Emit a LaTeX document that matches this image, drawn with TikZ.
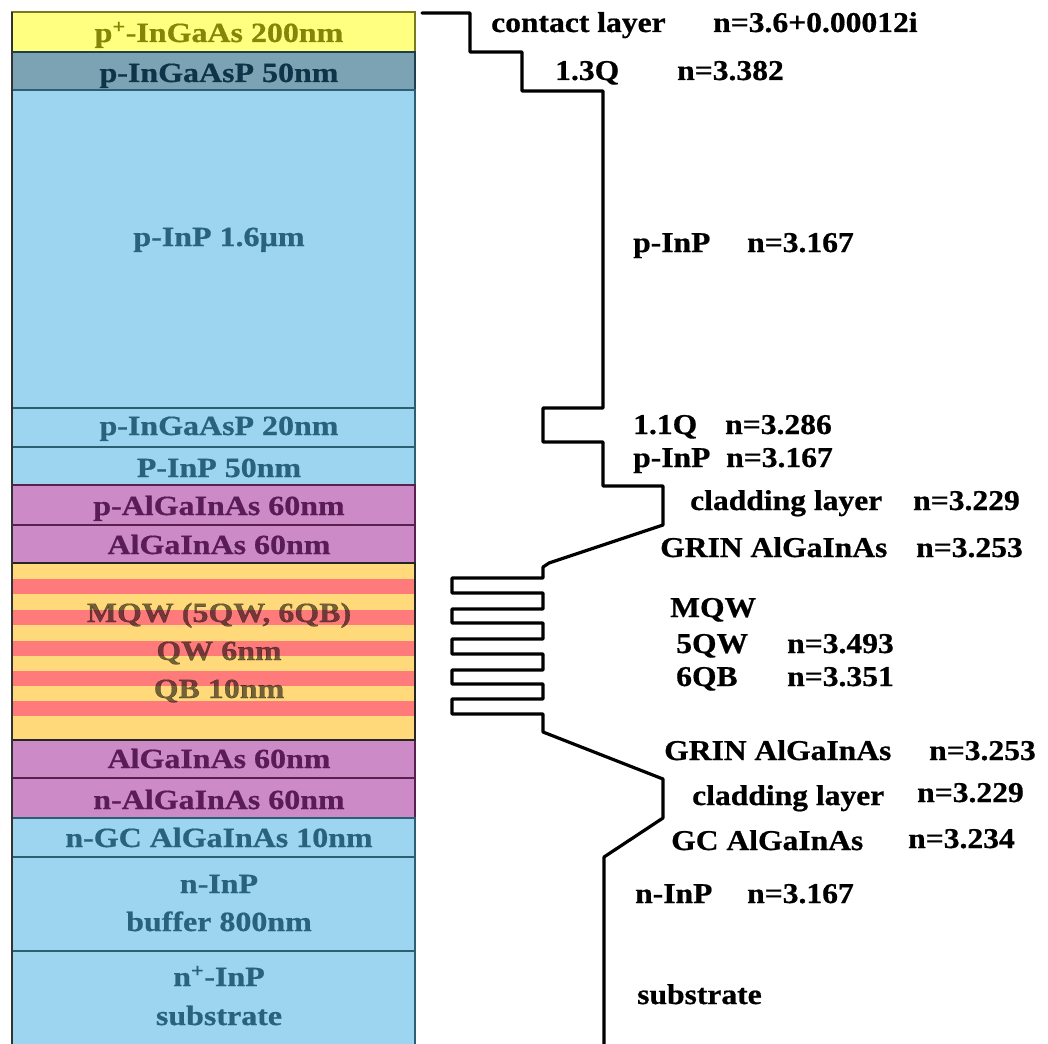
\documentclass[tikz,border=0pt]{standalone}
\usepackage{fontspec}
\setmainfont{Liberation Serif}[BoldFeatures={FakeBold=0.6}]
\usepackage{graphicx}
\definecolor{cyel}{HTML}{FFFF80}
\definecolor{dyel}{HTML}{7A7A20}
\definecolor{tyel}{HTML}{85850A}
\definecolor{cgt}{HTML}{7BA3B3}
\definecolor{dgt}{HTML}{1E3E4E}
\definecolor{tgt}{HTML}{0D3448}
\definecolor{cblu}{HTML}{9DD5F0}
\definecolor{dblu}{HTML}{2C5F73}
\definecolor{tblu}{HTML}{28627D}
\definecolor{cmag}{HTML}{CC8AC6}
\definecolor{dmag}{HTML}{5A2050}
\definecolor{tmag}{HTML}{5A1C54}
\definecolor{cqy}{HTML}{FFD97A}
\definecolor{cqr}{HTML}{FF7B7B}
\newcommand{\lsc}[1]{\scalebox{1.15}[1]{#1}}
\newcommand{\rsc}[1]{\scalebox{1.1}[1]{#1}}
\begin{document}
\begin{tikzpicture}[x=1pt,y=-1pt,
  layerbox/.style={line width=1.3pt},
  leftlab/.style={anchor=base,inner sep=0pt,font=\fontsize{27.8}{32}\selectfont\bfseries},
  rightlab/.style={anchor=base west,inner sep=0pt,font=\fontsize{28.7}{33}\selectfont\bfseries},
  profile/.style={line width=3.2pt,line join=round,line cap=round}]
\useasboundingbox (0,0) rectangle (1048,1043);
\fill[white] (0,0) rectangle (1048,1043);
% layers
\foreach \a/\b/\f/\d in {12/52/cyel/dyel,52/90/cgt/dgt,90/408/cblu/dblu,408/447/cblu/dblu,447/485/cblu/dblu,485/525/cmag/dmag,525/563/cmag/dmag,740/778/cmag/dmag,778/818/cmag/dmag,818/857/cblu/dblu,857/951/cblu/dblu,951/1046/cblu/dblu}
  \draw[layerbox,fill=\f,draw=\d] (12,\a) rectangle (415,\b);
% MQW stripes
\fill[cqy] (12,563) rectangle (415,740);
\foreach \t in {579,610,641,671,701}
  \fill[cqr] (12,\t) rectangle (415,\t+15);
\draw[layerbox,draw=black!85] (12,563) rectangle (415,740);
\draw[line width=1.5pt,black!80] (12,12) -- (12,1046);
% left labels
\node[leftlab,text=tyel] (l1) at (219,42) {\lsc{p\textsuperscript{+}-InGaAs 200nm}};
\node[leftlab,text=tgt] (l2) at (219,82) {\lsc{p-InGaAsP 50nm}};
\node[leftlab,text=tblu] (l3) at (219,246) {\lsc{p-InP 1.6µm}};
\node[leftlab,text=tblu] (l4) at (219,435) {\lsc{p-InGaAsP 20nm}};
\node[leftlab,text=tblu] (l5) at (219,477) {\lsc{P-InP 50nm}};
\node[leftlab,text=tmag] (l6) at (219,515) {\lsc{p-AlGaInAs 60nm}};
\node[leftlab,text=tmag] (l7) at (219,554) {\lsc{AlGaInAs 60nm}};
\node[leftlab,text=black,text opacity=0.55] (l8) at (219,622) {\lsc{MQW (5QW, 6QB)}};
\node[leftlab,text=black,text opacity=0.55] (l9) at (219,660) {\lsc{QW 6nm}};
\node[leftlab,text=black,text opacity=0.55] (l10) at (219,698) {\lsc{QB 10nm}};
\node[leftlab,text=tmag] (l11) at (219,768) {\lsc{AlGaInAs 60nm}};
\node[leftlab,text=tmag] (l12) at (219,809) {\lsc{n-AlGaInAs 60nm}};
\node[leftlab,text=tblu] (l13) at (219,847) {\lsc{n-GC AlGaInAs 10nm}};
\node[leftlab,text=tblu] (l14) at (219,893) {\lsc{n-InP}};
\node[leftlab,text=tblu] (l15) at (219,931) {\lsc{buffer 800nm}};
\node[leftlab,text=tblu] (l16) at (219,986) {\lsc{n\textsuperscript{+}-InP}};
\node[leftlab,text=tblu] (l17) at (219,1025) {\lsc{substrate}};
% index profile
\draw[profile] (422,13) -- (470,13) -- (470,52) -- (522,52) -- (522,91) -- (603,91)
  -- (603,408) -- (543,408) -- (543,442) -- (603,442) -- (603,486) -- (663,486)
  -- (663,525) -- (549,563) -- (543,567) -- (543,578)
  -- (452,578) -- (452,593) -- (543,593) -- (543,609)
  -- (452,609) -- (452,623) -- (543,623) -- (543,639)
  -- (452,639) -- (452,654) -- (543,654) -- (543,670)
  -- (452,670) -- (452,684) -- (543,684) -- (543,699)
  -- (452,699) -- (452,714) -- (543,714) -- (543,732)
  -- (663,779) -- (663,818) -- (604,857) -- (604,1046);
% right labels
\node[rightlab] (r1) at (491,32) {\rsc{contact layer}};
\node[rightlab] (r1n) at (713,32) {\rsc{n=3.6+0.00012i}};
\node[rightlab] (r2) at (555,80) {\rsc{1.3Q}};
\node[rightlab] (r2n) at (677,80) {\rsc{n=3.382}};
\node[rightlab] (r3) at (633,252) {\rsc{p-InP}};
\node[rightlab] (r3n) at (747,252) {\rsc{n=3.167}};
\node[rightlab] (r4) at (633,434) {\rsc{1.1Q}};
\node[rightlab] (r4n) at (725,434) {\rsc{n=3.286}};
\node[rightlab] (r5) at (633,467) {\rsc{p-InP}};
\node[rightlab] (r5n) at (726,467) {\rsc{n=3.167}};
\node[rightlab] (r6) at (690,510) {\rsc{cladding layer}};
\node[rightlab] (r6n) at (913,510) {\rsc{n=3.229}};
\node[rightlab] (r7) at (660,557) {\rsc{GRIN AlGaInAs}};
\node[rightlab] (r7n) at (916,557) {\rsc{n=3.253}};
\node[rightlab] (r8) at (670,617) {\rsc{MQW}};
\node[rightlab] (r9) at (676,653) {\rsc{5QW}};
\node[rightlab] (r9n) at (787,653) {\rsc{n=3.493}};
\node[rightlab] (r10) at (676,686) {\rsc{6QB}};
\node[rightlab] (r10n) at (787,686) {\rsc{n=3.351}};
\node[rightlab] (r11) at (664,760) {\rsc{GRIN AlGaInAs}};
\node[rightlab] (r11n) at (929,760) {\rsc{n=3.253}};
\node[rightlab] (r12) at (692,805) {\rsc{cladding layer}};
\node[rightlab] (r12n) at (917,802) {\rsc{n=3.229}};
\node[rightlab] (r13) at (671,850) {\rsc{GC AlGaInAs}};
\node[rightlab] (r13n) at (908,848) {\rsc{n=3.234}};
\node[rightlab] (r14) at (635,903) {\rsc{n-InP}};
\node[rightlab] (r14n) at (747,903) {\rsc{n=3.167}};
\node[rightlab] (r15) at (637,1004) {\rsc{substrate}};
\end{tikzpicture}
\end{document}
